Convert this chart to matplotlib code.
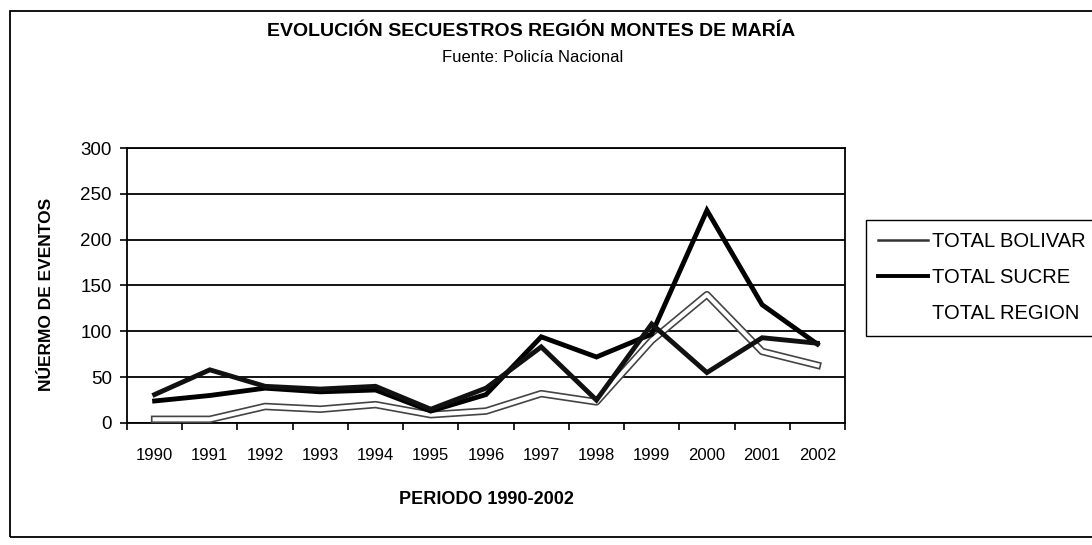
import numpy as np
import matplotlib
matplotlib.use("Agg")
import matplotlib.pyplot as plt
import matplotlib.patheffects as pe
from matplotlib.lines import Line2D
from matplotlib.patches import Rectangle

# datos
years = ["1990", "1991", "1992", "1993", "1994", "1995", "1996",
         "1997", "1998", "1999", "2000", "2001", "2002"]
total_bolivar = [31, 58, 40, 37, 40, 15, 38, 83, 25, 108, 55, 93, 87]
total_sucre = [24, 30, 38, 34, 36, 13, 31, 94, 72, 97, 232, 129, 86]
total_region = [4, 4, 18, 15, 20, 9, 13, 32, 23, 90, 140, 78, 63]
labels = ["TOTAL BOLIVAR", "TOTAL SUCRE", "TOTAL REGION"]

plt.rcParams['font.family'] = ['Liberation Sans', 'DejaVu Sans']

fig = plt.figure(figsize=(10.92, 5.45), dpi=100)
ax = fig.add_axes([0.1163, 0.2239, 0.6575, 0.5045])

x = np.arange(len(years))

# linea clara (se ve hueca en el original)
ax.plot(x, total_region, color='white', lw=3.0, zorder=3,
        path_effects=[pe.Stroke(linewidth=5.4, foreground='#444444'), pe.Normal()])
ax.plot(x, total_sucre, color='black', lw=3.5, zorder=4, solid_joinstyle='miter')
ax.plot(x, total_bolivar, color='#111111', lw=3.5, zorder=5, solid_joinstyle='miter')

ax.set_xlim(-0.5, len(years) - 0.5)
ax.set_ylim(0, 300)
ax.set_yticks(range(0, 301, 50))
ax.yaxis.grid(True, color='black', lw=1.3)
ax.set_axisbelow(True)

ax.set_xticks(np.arange(-0.5, len(years), 1.0))
ax.set_xticklabels([])
ax.set_xticks(x, minor=True)
ax.set_xticklabels(years, minor=True, fontsize=12)
ax.tick_params(axis='x', which='major', direction='out', length=5, width=1.2)
ax.tick_params(axis='x', which='minor', length=0, pad=18)
ax.tick_params(axis='y', direction='out', length=5, width=1.2, labelsize=13.5, pad=6)
for s in ax.spines.values():
    s.set_linewidth(1.3)
    s.set_color('black')

# leyenda como en el original
handles = [Line2D([], [], color='#333333', lw=1.8),
           Line2D([], [], color='black', lw=2.8),
           Line2D([], [], color='white', lw=2)]
fig.legend(handles, labels, loc='upper left', bbox_to_anchor=(0.793, 0.596),
           fontsize=14.5, handlelength=2.5, handletextpad=0.2, borderpad=0.6,
           labelspacing=0.85, fancybox=False, framealpha=1, edgecolor='black',
           borderaxespad=0)

fig.text(0.486, 0.943, "EVOLUCIÓN SECUESTROS REGIÓN MONTES DE MARÍA",
         ha='center', va='center', fontsize=14, fontweight='bold')
fig.text(0.488, 0.895, "Fuente: Policía Nacional", ha='center', va='center',
         fontsize=12)
fig.text(0.445, 0.083, "PERIODO 1990-2002", ha='center', va='center',
         fontsize=13, fontweight='bold')
fig.text(0.043, 0.459, "NÚERMO DE EVENTOS", ha='center', va='center',
         rotation=90, fontsize=12.5, fontweight='bold')

fig.patches.append(Rectangle((0.009, 0.0147), 1.0, 0.965, fill=False,
                             lw=1.3, edgecolor='black', transform=fig.transFigure))

fig.savefig("out.png", dpi=100)
